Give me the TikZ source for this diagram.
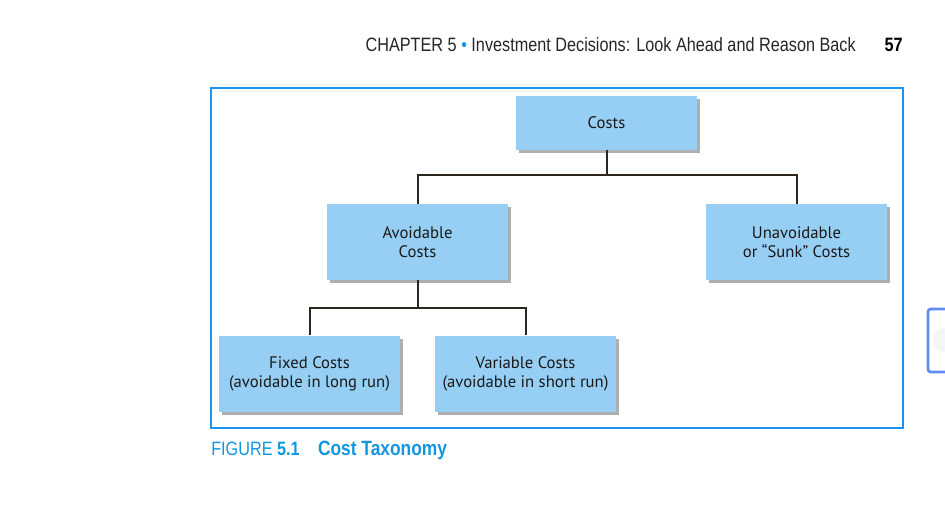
\documentclass[tikz,border=0pt]{standalone}
\usepackage{fontspec}
\setmainfont{PT Sans}
\newfontfamily\headfont[FakeStretch=0.84]{Liberation Sans}
\usepackage{tikz}
\usetikzlibrary{
  chains,
  positioning,
  scopes,
  shadows
}
\definecolor{boxblue}{RGB}{150,207,243}
\definecolor{framblue}{RGB}{28,146,240}
\definecolor{captblue}{RGB}{18,150,225}
\definecolor{linebrown}{RGB}{45,38,32}
\definecolor{tabblue}{RGB}{95,140,240}

\begin{document}
\begin{tikzpicture}[x=0.75pt,y=-0.75pt,
      costbox/.style={
         rectangle,
         minimum width=135.75pt,
         minimum height=57pt,
         inner sep=0pt,
         fill=boxblue,
         align=center,
         text=black!90,
         font=\fontsize{12.5}{14.25}\selectfont,
         drop shadow={shadow xshift=2.5pt,shadow yshift=-2.5pt,opacity=0.45,fill=black!70}
      },
      topbox/.style={costbox,minimum height=40.5pt},
      headtext/.style={inner sep=0pt,font=\headfont\fontsize{14.5}{16}\selectfont},
      branch/.style={
         to path={-- ++(0,#1) -| (\tikztotarget)}
      },
      every join/.style={line width=1.5pt,draw=linebrown}
    ]
    \clip (0,0) rectangle (945,510);
    \useasboundingbox (0,0) rectangle (945,510);

    % page header
    \node (head) [anchor=base east,headtext,text=black!85]
       at (856,51) {CHAPTER 5 {\color{framblue}\textbullet} Investment Decisions: Look Ahead and Reason Back};
    \node (page) [anchor=base east,headtext]
       at (903,51) {\bfseries 57};

    % frame
    \draw[framblue,line width=1.5pt] (211,88) rectangle (903,428);

    % tab at the right edge
    \draw[tabblue,line width=2pt,rounded corners=2pt,fill=white] (928,309) rectangle (960,372);
    \fill[black!4] (945,340) circle (12);

    \node (n1) [topbox] at (606.5,123) {Costs};
    \node (n21) [costbox] at (417.5,242) {Avoidable\\Costs};
    \node (n22) [costbox] at (796.5,242) {Unavoidable\\or “Sunk” Costs};
    \node (n31) [costbox] at (309.5,373.5) {Fixed Costs\\(avoidable in long run)};
    \node (n32) [costbox] at (525.5,373.5) {Variable Costs\\(avoidable in short run)};

  { [start chain]
       \chainin (n1);
       \chainin (n21)    [join=by {branch=52}];
  }
  { [start chain]
       \chainin (n1);
       \chainin (n22)    [join=by {branch=52}];
  }
  { [start chain]
       \chainin (n21);
       \chainin (n31)    [join=by {branch=66}];
  }
  { [start chain]
       \chainin (n21);
       \chainin (n32)    [join=by {branch=66}];
  }

    % caption
    \node (capt) [anchor=base west,headtext,text=captblue]
       at (211,455) {FIGURE \textbf{5.1}\hspace{0.95em}{\fontsize{15.5}{16}\selectfont\bfseries Cost Taxonomy}};
\end{tikzpicture}
\end{document}
